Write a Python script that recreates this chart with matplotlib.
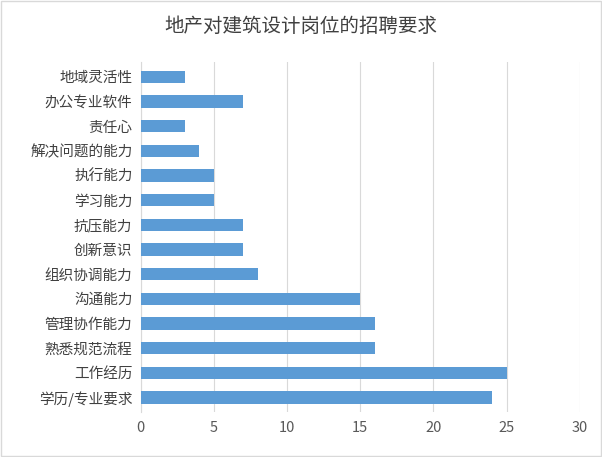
import matplotlib.pyplot as plt
from matplotlib import font_manager

cjk = [f.name for f in font_manager.fontManager.ttflist if 'CJK' in f.name]
if not cjk:
    for path in font_manager.findSystemFonts():
        if 'CJK' in path or 'cjk' in path.lower():
            try:
                font_manager.fontManager.addfont(path)
            except Exception:
                pass
    cjk = [f.name for f in font_manager.fontManager.ttflist if 'CJK' in f.name]
pref = [n for n in cjk if 'SC' in n] or cjk
plt.rcParams['font.family'] = (pref[:1] if pref else []) + ['DejaVu Sans']

categories = ['地域灵活性', '办公专业软件', '责任心', '解决问题的能力', '执行能力', '学习能力',
              '抗压能力', '创新意识', '组织协调能力', '沟通能力', '管理协作能力', '熟悉规范流程',
              '工作经历', '学历/专业要求']
values = [3, 7, 3, 4, 5, 5, 7, 7, 8, 15, 16, 16, 25, 24]
x_ticks = [0, 5, 10, 15, 20, 25, 30]

fig = plt.figure(figsize=(6.02, 4.57), dpi=100)
ax = fig.add_axes([0.234, 0.098, 0.729, 0.766])
ypos = list(range(len(categories)))[::-1]
ax.barh(ypos, values, height=0.5, color='#5B9BD5', zorder=3)
ax.set_yticks(ypos)
ax.set_yticklabels(categories, fontsize=10.5, color='#404040')
ax.set_xlim(0, 30)
ax.set_xticks(x_ticks)
ax.set_xticklabels([str(t) for t in x_ticks], fontsize=10.5, color='#595959')
ax.set_ylim(-0.6, len(categories) - 0.4)
ax.grid(axis='x', color='#D9D9D9', linewidth=0.8, zorder=0)
for s in ['top', 'right', 'bottom']:
    ax.spines[s].set_visible(False)
ax.spines['left'].set_color('#D9D9D9')
ax.tick_params(length=0, pad=6)
fig.suptitle('地产对建筑设计岗位的招聘要求', y=0.965, fontsize=14, color='#404040')
fig.patches.append(plt.Rectangle((0.002, 0.002), 0.996, 0.996, transform=fig.transFigure,
                                 fill=False, edgecolor='#D9D9D9', linewidth=1))
fig.savefig('out.png', dpi=100)
